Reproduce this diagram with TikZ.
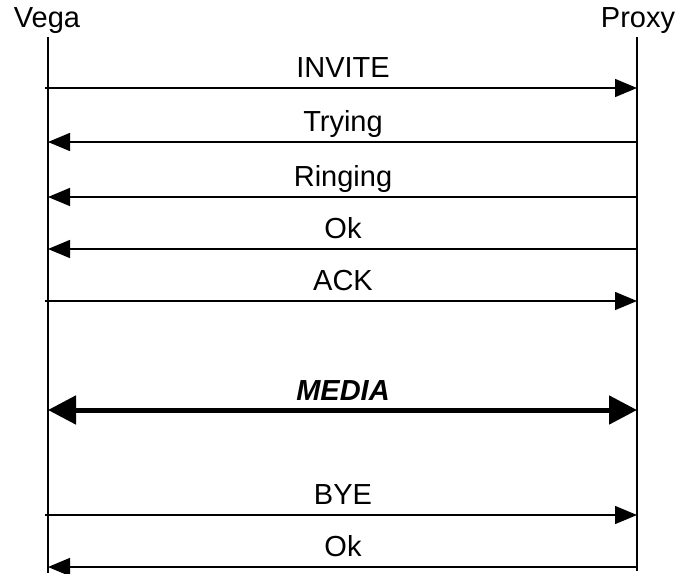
\documentclass[tikz,border=0pt]{standalone}
\usepackage{fontspec}
\setmainfont{Liberation Sans}
\usetikzlibrary{arrows.meta}
\tikzset{
  lbl/.style={font=\fontsize{29}{29}\selectfont, anchor=base, inner sep=0pt},
  msg/.style={line width=1.5pt, -{Triangle[length=22pt,width=18pt]}},
  media/.style={line width=5pt, {Triangle[length=28pt,width=28pt]}-{Triangle[length=28pt,width=28pt]}},
  life/.style={line width=2pt}
}
\begin{document}
\begin{tikzpicture}[x=1pt,y=-1pt]
\useasboundingbox (0,0) rectangle (682,573);
\node[lbl] (vega) at (47,27) {Vega};
\node[lbl] (proxy) at (638,27) {Proxy};
\coordinate (vt) at (48,37);
\coordinate (vb) at (48,573);
\coordinate (pt) at (637,37);
\coordinate (pb) at (637,571);
\draw[life] (vt) -- (vb);
\draw[life] (pt) -- (pb);
% messages
\coordinate (a1) at (45,88);   \coordinate (b1) at (637,88);
\coordinate (a2) at (48,142);  \coordinate (b2) at (637,142);
\coordinate (a3) at (48,197);  \coordinate (b3) at (637,197);
\coordinate (a4) at (48,249);  \coordinate (b4) at (637,249);
\coordinate (a5) at (45,301);  \coordinate (b5) at (637,301);
\coordinate (a6) at (48,410);  \coordinate (b6) at (637,410);
\coordinate (a7) at (45,515);  \coordinate (b7) at (637,515);
\coordinate (a8) at (48,567);  \coordinate (b8) at (637,567);
\draw[msg] (a1) -- (b1);
\draw[msg] (b2) -- (a2);
\draw[msg] (b3) -- (a3);
\draw[msg] (b4) -- (a4);
\draw[msg] (a5) -- (b5);
\draw[media] (a6) -- (b6);
\draw[msg] (a7) -- (b7);
\draw[msg] (b8) -- (a8);
\node[lbl] (l1) at (343,77) {INVITE};
\node[lbl] (l2) at (343,131) {Trying};
\node[lbl] (l3) at (343,186) {Ringing};
\node[lbl] (l4) at (343,238) {Ok};
\node[lbl] (l5) at (343,290) {ACK};
\node[lbl] (l6) at (343,400) {\bfseries\itshape MEDIA};
\node[lbl] (l7) at (343,504) {BYE};
\node[lbl] (l8) at (343,556) {Ok};
\end{tikzpicture}
\end{document}
